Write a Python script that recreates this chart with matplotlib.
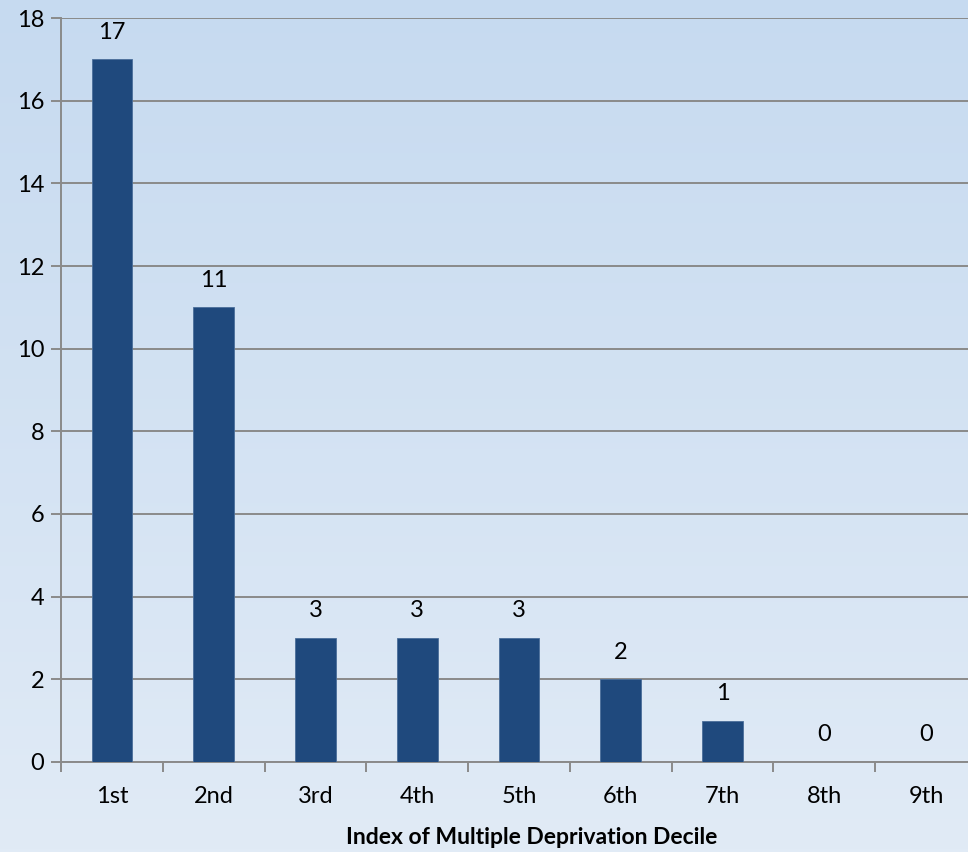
import numpy as np
import matplotlib
matplotlib.use("Agg")
import matplotlib.pyplot as plt
from matplotlib.colors import LinearSegmentedColormap

plt.rcParams['font.family'] = ['Lato', 'DejaVu Sans']

deciles = ['1st', '2nd', '3rd', '4th', '5th', '6th', '7th', '8th', '9th']
counts = [17, 11, 3, 3, 3, 2, 1, 0, 0]
y_ticks = [0, 2, 4, 6, 8, 10, 12, 14, 16, 18]

W, H = 968, 852
fig = plt.figure(figsize=(W / 100, H / 100), dpi=100)

# gradient background over the whole figure
bg = fig.add_axes([0, 0, 1, 1], zorder=0)
grad = np.linspace(0, 1, 256).reshape(-1, 1)
cmap = LinearSegmentedColormap.from_list('bg', ['#C6DAF0', '#E1EBF6'])
bg.imshow(grad, aspect='auto', cmap=cmap, extent=[0, 1, 0, 1], origin='upper')
bg.axis('off')

# axes box in pixels: left 61, right 977 (cropped), top y=18, zero y=762
left, right, top, bottom = 61, 977, 18, 762
ax = fig.add_axes([left / W, (H - bottom) / H, (right - left) / W, (bottom - top) / H], zorder=1)
ax.patch.set_alpha(0)

x = np.arange(len(deciles))
ax.bar(x, counts, width=0.4, color='#1F497D', edgecolor='#4A6E9A', linewidth=0.6, zorder=3)
for xi, v in zip(x, counts):
    ax.annotate(str(v), (xi, v), xytext=(0, 12), textcoords='offset points',
                ha='center', va='bottom', fontsize=17, color='black')

ax.set_xlim(-0.5, len(deciles) - 0.5)
ax.set_ylim(0, 18)
ax.set_yticks(y_ticks)
ax.yaxis.grid(True, color='#8A8A8A', linewidth=1.4, zorder=0)
ax.set_axisbelow(True)

ax.set_xticks(x)
ax.set_xticklabels(deciles)
ax.set_xticks(np.arange(len(deciles) + 1) - 0.5, minor=True)
ax.tick_params(axis='x', which='major', length=0, pad=17, labelsize=17)
ax.tick_params(axis='x', which='minor', length=7, width=1.4, color='#8A8A8A', direction='out')
ax.tick_params(axis='y', length=7, width=1.4, color='#8A8A8A', labelsize=17, pad=5)

for s in ['top', 'right']:
    ax.spines[s].set_visible(False)
for s in ['left', 'bottom']:
    ax.spines[s].set_color('#8A8A8A')
    ax.spines[s].set_linewidth(1.4)

fig.text(532 / W, 1 - 837 / H, 'Index of Multiple Deprivation Decile',
         ha='center', va='center', fontsize=16.5, fontweight='bold')

fig.savefig('out.png', dpi=100)
